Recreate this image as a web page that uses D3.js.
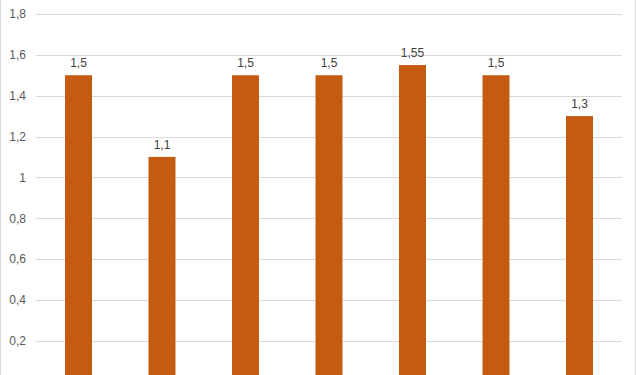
<!DOCTYPE html>
<html><head><meta charset="utf-8">
<script src="https://cdn.jsdelivr.net/npm/d3@7"></script>
<style>body{margin:0;background:#fff;}svg{display:block;}</style>
</head><body>
<script>
const categories = ["A","B","C","D","E","F","G"];
const values = [1.5, 1.1, 1.5, 1.5, 1.55, 1.5, 1.3];
const tickValues = [0.2,0.4,0.6,0.8,1,1.2,1.4,1.6,1.8];

const W = 636, H = 375;
const svg = d3.select("body").append("svg").attr("width", W).attr("height", H);
const fmt = v => String(v).replace(".", ",");

const x = d3.scaleBand().domain(categories).range([36.75, 621.25]).paddingInner(0.677).paddingOuter(0.3385);
const y = d3.scaleLinear().domain([0, 1.8]).range([381.5, 14]);

// borders
svg.append("line").attr("x1",0.5).attr("x2",0.5).attr("y1",0).attr("y2",H).attr("stroke","#d9d9d9");
svg.append("line").attr("x1",635.5).attr("x2",635.5).attr("y1",0).attr("y2",H).attr("stroke","#d9d9d9");

const yAxis = d3.axisLeft(y).tickValues(tickValues).tickFormat(fmt).tickSize(-(621.5-36)).tickPadding(10);
const g = svg.append("g").attr("transform","translate(36,0)").call(yAxis);
g.select(".domain").remove();
g.selectAll(".tick line").attr("stroke","#d9d9d9").attr("shape-rendering","crispEdges");
g.selectAll(".tick text").attr("fill","#595959").attr("font-family","Liberation Sans, Arial, sans-serif").attr("font-size","12px");

svg.selectAll("rect.bar").data(values).enter().append("rect").attr("class","bar")
  .attr("x",(d,i)=>x(categories[i])).attr("width",x.bandwidth())
  .attr("y",d=>y(d)).attr("height",d=>y(0)-y(d)).attr("fill","#c55a11");

svg.selectAll("text.lab").data(values).enter().append("text").attr("class","lab")
  .attr("x",(d,i)=>x(categories[i])+x.bandwidth()/2).attr("y",d=>y(d)-8)
  .attr("text-anchor","middle").attr("fill","#404040")
  .attr("font-family","Liberation Sans, Arial, sans-serif").attr("font-size","12px")
  .text(fmt);
</script>
</body></html>
